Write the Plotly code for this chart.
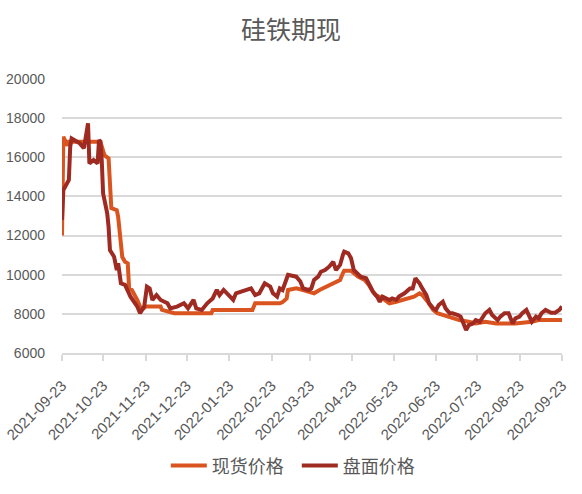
import plotly.graph_objects as go

# 现货价格 (spot)
spot_dates = ["2021-09-23","2021-09-24","2021-09-27","2021-09-28","2021-10-21","2021-10-24","2021-10-27",
              "2021-10-28","2021-10-29","2021-11-02","2021-11-03","2021-11-06","2021-11-08","2021-11-10",
              "2021-11-11","2021-11-13","2021-11-17","2021-11-20","2021-11-23","2021-12-04","2021-12-05",
              "2021-12-14","2022-01-10","2022-01-11","2022-02-09","2022-02-11","2022-03-01","2022-03-03",
              "2022-03-06","2022-03-07","2022-03-11","2022-03-13","2022-03-18","2022-03-23","2022-03-26",
              "2022-03-30","2022-04-04","2022-04-09","2022-04-14","2022-04-16","2022-04-17","2022-04-22",
              "2022-04-24","2022-04-27","2022-05-02","2022-05-05","2022-05-08","2022-05-10","2022-05-15",
              "2022-05-20","2022-05-25","2022-05-30","2022-06-04","2022-06-07","2022-06-11","2022-06-13",
              "2022-06-17","2022-06-21","2022-06-24","2022-06-28","2022-07-03","2022-07-10","2022-07-17",
              "2022-07-22","2022-07-29","2022-08-06","2022-08-20","2022-08-28","2022-09-01","2022-09-06",
              "2022-09-23"]
spot_vals = [12000,17050,16600,16800,16800,16100,15950,
             15000,13400,13300,12960,10900,10660,10580,
             9300,9220,8700,8200,8370,8370,8200,
             8030,8030,8200,8200,8540,8540,8600,
             8790,9220,9300,9300,9220,9130,9050,
             9220,9390,9560,9730,10070,10200,10200,
             10070,9900,9730,9480,9130,8960,8790,
             8540,8620,8710,8790,8880,9050,8960,
             8620,8200,8030,7940,7860,7680,7600,
             7510,7600,7510,7510,7550,7600,7680,
             7680]

# 盘面价格 (futures)
fut_dates = ["2021-09-23","2021-09-24","2021-09-28","2021-09-29","2021-09-30","2021-10-06","2021-10-09",
             "2021-10-12","2021-10-13","2021-10-16","2021-10-19","2021-10-20","2021-10-21","2021-10-22",
             "2021-10-23","2021-10-26","2021-10-27","2021-10-28","2021-10-31","2021-11-02","2021-11-03",
             "2021-11-05","2021-11-08","2021-11-11","2021-11-12","2021-11-17","2021-11-19","2021-11-22",
             "2021-11-24","2021-11-26","2021-11-28","2021-12-01","2021-12-04","2021-12-09","2021-12-11",
             "2021-12-16","2021-12-21","2021-12-24","2021-12-28","2021-12-30","2022-01-03","2022-01-07",
             "2022-01-11","2022-01-14","2022-01-16","2022-01-19","2022-01-24","2022-01-26","2022-01-28",
             "2022-02-05","2022-02-08","2022-02-11","2022-02-14","2022-02-18","2022-02-22","2022-02-24",
             "2022-02-27","2022-03-01","2022-03-03","2022-03-07","2022-03-11","2022-03-13","2022-03-16",
             "2022-03-18","2022-03-22","2022-03-24","2022-03-26","2022-03-29","2022-03-31","2022-04-03",
             "2022-04-06","2022-04-09","2022-04-11","2022-04-14","2022-04-16","2022-04-17","2022-04-20",
             "2022-04-22","2022-04-24","2022-04-27","2022-04-29","2022-05-03","2022-05-05","2022-05-08",
             "2022-05-11","2022-05-13","2022-05-15","2022-05-18","2022-05-20","2022-05-22","2022-05-25",
             "2022-05-27","2022-05-31","2022-06-04","2022-06-06","2022-06-08","2022-06-11","2022-06-13",
             "2022-06-16","2022-06-18","2022-06-21","2022-06-23","2022-06-25","2022-06-28","2022-06-30",
             "2022-07-03","2022-07-05","2022-07-09","2022-07-11","2022-07-15","2022-07-17","2022-07-20",
             "2022-07-22","2022-07-25","2022-07-27","2022-07-29","2022-08-01","2022-08-03","2022-08-07",
             "2022-08-09","2022-08-12","2022-08-15","2022-08-18","2022-08-20","2022-08-23","2022-08-25",
             "2022-08-28","2022-08-30","2022-09-01","2022-09-04","2022-09-06","2022-09-08","2022-09-11",
             "2022-09-15","2022-09-18","2022-09-21","2022-09-23"]
fut_vals = [12800,14330,14840,16540,16960,16710,16460,
            17740,15690,15860,15690,16880,16800,15860,
            14160,13140,12450,11260,10920,10240,10580,
            9560,9480,9050,8880,8370,8030,8370,
            9390,9300,8710,8960,8710,8540,8280,
            8370,8540,8280,8710,8280,8200,8540,
            8790,9220,8960,9220,8880,8710,9050,
            9220,9300,8960,9050,9560,9390,9050,
            8880,9300,9220,9990,9900,9900,9650,
            9300,9220,9300,9730,9900,10150,10240,
            10410,10660,10240,10500,11000,11180,11090,
            10840,10240,9990,9900,9820,9560,9130,
            8880,8620,8880,8790,8710,8790,8710,
            8880,9050,9300,9300,9820,9560,9300,
            8960,8540,8280,8200,8450,8620,8280,
            8030,8030,7940,7860,7170,7430,7510,
            7680,7600,7860,8030,8200,7940,7680,
            7860,8030,8030,7510,7770,7860,8030,
            8200,7860,7600,7860,7770,8030,8200,
            8060,8060,8200,8370]

tick_dates = ["2021-09-23","2021-10-23","2021-11-23","2021-12-23","2022-01-23","2022-02-23",
              "2022-03-23","2022-04-23","2022-05-23","2022-06-23","2022-07-23","2022-08-23","2022-09-23"]
y_ticks = [6000, 8000, 10000, 12000, 14000, 16000, 18000, 20000]
y_tick_text = ["6000", "8000", "10000", "12000", "14000", "16000", "18000", "20000"]

SPOT_COLOR = "#D9541E"
FUT_COLOR = "#9E2A22"
GRID = "#D9D9D9"
TEXT = "#595959"
CJK = "Noto Sans CJK SC"

fig = go.Figure()
fig.add_trace(go.Scatter(x=spot_dates, y=spot_vals, mode="lines", name="现货价格",
                         line=dict(color=SPOT_COLOR, width=4)))
fig.add_trace(go.Scatter(x=fut_dates, y=fut_vals, mode="lines", name="盘面价格",
                         line=dict(color=FUT_COLOR, width=4)))

fig.update_layout(
    width=582, height=494,
    margin=dict(l=62, r=20, t=79, b=141),
    paper_bgcolor="white", plot_bgcolor="white",
    title=dict(text="硅铁期现", x=0.5, xanchor="center", yref="container", y=0.939,
               yanchor="middle", font=dict(family=CJK, size=25, color=TEXT)),
    showlegend=True,
    legend=dict(orientation="h", xref="container", x=0.51, xanchor="center",
                yref="container", y=0.057, yanchor="middle",
                itemwidth=36, entrywidth=80, entrywidthmode="pixels",
                font=dict(family=CJK, size=18, color=TEXT)),
    font=dict(family="Liberation Sans", color=TEXT),
)
fig.update_xaxes(
    type="date", range=["2021-09-23", "2022-09-23"], automargin=False,
    tickmode="array", tickvals=tick_dates, ticktext=tick_dates,
    tickangle=-45, tickfont=dict(family="Liberation Sans", size=15, color=TEXT),
    ticklabeloverflow="allow",
    showgrid=False, showline=True, linecolor=GRID, linewidth=2,
    ticks="outside", ticklen=6, tickcolor=GRID, tickwidth=1.5,
    ticklabelstandoff=10, zeroline=False,
)
fig.update_yaxes(
    range=[6000, 20000], tickmode="array", tickvals=y_ticks, ticktext=y_tick_text,
    automargin=False,
    tickfont=dict(family="Liberation Sans", size=14, color=TEXT),
    showgrid=True, gridcolor=GRID, gridwidth=2,
    showline=False, zeroline=False, ticks="", ticklabelstandoff=16,
)

fig.write_html("out.html", config={"displayModeBar": False},
               post_script="document.body.style.margin='0';")
